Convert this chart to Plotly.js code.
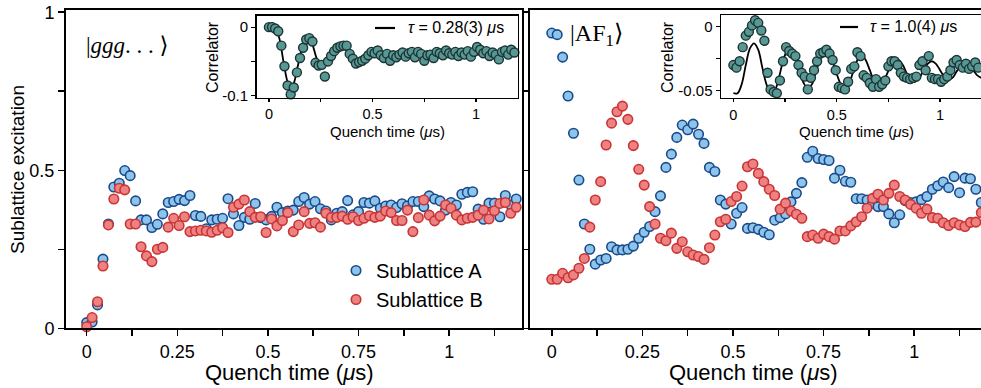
<!DOCTYPE html>
<html><head><meta charset="utf-8">
<script src="https://cdn.plot.ly/plotly-3.0.1.min.js"></script>
<style>html,body{margin:0;padding:0;overflow:hidden;background:#fff}#plot{width:992px;height:388px}</style>
</head><body><div id="plot"></div>
<script>
// ---- data ----
const times = [0,0.015,0.03,0.045,0.06,0.075,0.09,0.105,0.12,0.135,0.15,0.165,0.18,0.195,0.21,0.225,0.24,0.255,0.27,0.285,0.3,0.315,0.33,0.345,0.36,0.375,0.39,0.405,0.42,0.435,0.45,0.465,0.48,0.495,0.51,0.525,0.54,0.555,0.57,0.585,0.6,0.615,0.63,0.645,0.66,0.675,0.69,0.705,0.72,0.735,0.75,0.765,0.78,0.795,0.81,0.825,0.84,0.855,0.87,0.885,0.9,0.915,0.93,0.945,0.96,0.975,0.99,1.005,1.02,1.035,1.05,1.065,1.08,1.095,1.11,1.125,1.14,1.155,1.17,1.185];

const gggA = [0.018,0.020,0.074,0.219,0.330,0.447,0.459,0.499,0.483,0.403,0.343,0.343,0.319,0.329,0.362,0.398,0.401,0.408,0.404,0.420,0.357,0.354,0.315,0.343,0.345,0.348,0.410,0.362,0.325,0.351,0.345,0.395,0.350,0.343,0.354,0.383,0.366,0.371,0.374,0.401,0.414,0.393,0.401,0.378,0.371,0.343,0.364,0.369,0.404,0.359,0.369,0.398,0.396,0.403,0.380,0.387,0.390,0.382,0.394,0.387,0.401,0.401,0.385,0.419,0.409,0.403,0.374,0.398,0.390,0.424,0.430,0.432,0.377,0.345,0.396,0.396,0.353,0.420,0.390,0.409];
const gggB = [0.005,0.034,0.084,0.197,0.327,0.409,0.443,0.438,0.330,0.330,0.258,0.229,0.211,0.250,0.256,0.320,0.348,0.325,0.353,0.306,0.308,0.310,0.308,0.304,0.310,0.318,0.303,0.383,0.393,0.406,0.369,0.351,0.353,0.303,0.346,0.324,0.341,0.366,0.306,0.327,0.369,0.332,0.334,0.320,0.364,0.351,0.351,0.355,0.345,0.353,0.341,0.348,0.356,0.351,0.355,0.371,0.366,0.341,0.341,0.374,0.306,0.350,0.406,0.358,0.340,0.355,0.390,0.380,0.358,0.343,0.348,0.351,0.358,0.374,0.346,0.372,0.395,0.398,0.364,0.383];

const afA = [0.934,0.929,0.858,0.735,0.617,0.469,0.330,0.250,0.203,0.216,0.221,0.258,0.248,0.248,0.250,0.260,0.285,0.304,0.322,0.369,0.419,0.509,0.551,0.604,0.643,0.628,0.646,0.614,0.585,0.509,0.496,0.406,0.393,0.330,0.364,0.382,0.316,0.318,0.313,0.304,0.296,0.342,0.350,0.362,0.400,0.427,0.461,0.541,0.560,0.537,0.534,0.531,0.475,0.500,0.465,0.462,0.410,0.410,0.406,0.395,0.385,0.385,0.362,0.334,0.359,0.404,0.398,0.400,0.407,0.417,0.440,0.451,0.463,0.445,0.480,0.429,0.475,0.473,0.440,0.398];
const afB = [0.155,0.155,0.174,0.160,0.169,0.190,0.221,0.320,0.406,0.464,0.580,0.649,0.685,0.703,0.661,0.578,0.503,0.453,0.385,0.330,0.285,0.277,0.301,0.253,0.274,0.242,0.232,0.227,0.218,0.255,0.295,0.337,0.345,0.401,0.417,0.450,0.511,0.520,0.490,0.464,0.440,0.420,0.377,0.396,0.371,0.361,0.348,0.290,0.295,0.285,0.298,0.290,0.282,0.308,0.308,0.324,0.337,0.353,0.380,0.411,0.424,0.406,0.427,0.453,0.417,0.406,0.392,0.380,0.364,0.377,0.350,0.348,0.334,0.325,0.334,0.327,0.322,0.335,0.336,0.366];

const gggCorr = [0.000,0.000,-0.002,-0.006,-0.027,-0.057,-0.085,-0.098,-0.088,-0.066,-0.045,-0.030,-0.018,-0.016,-0.021,-0.052,-0.056,-0.055,-0.072,-0.050,-0.042,-0.035,-0.030,-0.028,-0.027,-0.027,-0.039,-0.046,-0.053,-0.051,-0.049,-0.046,-0.041,-0.036,-0.038,-0.034,-0.041,-0.045,-0.039,-0.049,-0.041,-0.044,-0.040,-0.037,-0.043,-0.038,-0.036,-0.044,-0.036,-0.039,-0.049,-0.041,-0.040,-0.045,-0.036,-0.038,-0.041,-0.034,-0.038,-0.040,-0.036,-0.042,-0.037,-0.040,-0.035,-0.043,-0.036,-0.029,-0.033,-0.038,-0.035,-0.042,-0.037,-0.040,-0.047,-0.036,-0.034,-0.040,-0.033,-0.037];
const afCorr = [-0.030,-0.032,-0.027,-0.016,-0.007,-0.004,0.001,0.005,0.003,-0.003,-0.011,-0.036,-0.049,-0.051,-0.052,-0.042,-0.027,-0.016,-0.019,-0.021,-0.023,-0.030,-0.036,-0.039,-0.049,-0.040,-0.034,-0.027,-0.021,-0.020,-0.018,-0.021,-0.026,-0.034,-0.047,-0.048,-0.049,-0.043,-0.033,-0.031,-0.020,-0.023,-0.038,-0.040,-0.044,-0.047,-0.041,-0.047,-0.045,-0.042,-0.031,-0.027,-0.027,-0.030,-0.036,-0.039,-0.040,-0.041,-0.040,-0.039,-0.030,-0.027,-0.034,-0.023,-0.040,-0.041,-0.041,-0.043,-0.041,-0.039,-0.034,-0.028,-0.026,-0.030,-0.032,-0.029,-0.033,-0.031,-0.028,-0.032];

const gggFitT = [0,0.01,0.02,0.03,0.05,0.07,0.09,0.105,0.12,0.14,0.16,0.18,0.195,0.21,0.23,0.25,0.265,0.28,0.3,0.32,0.34,0.36,0.38,0.4,0.42,0.44,0.46,0.48,0.5,0.52,0.55,0.6,0.65,0.7,0.8,0.9,1.0,1.2];
const gggFitV = [0,0.004,0.006,0.0,-0.016,-0.05,-0.08,-0.09,-0.082,-0.056,-0.031,-0.018,-0.016,-0.025,-0.045,-0.055,-0.056,-0.05,-0.04,-0.032,-0.028,-0.030,-0.036,-0.043,-0.047,-0.046,-0.042,-0.038,-0.036,-0.037,-0.041,-0.041,-0.039,-0.040,-0.040,-0.040,-0.040,-0.040];
const afFitT = [0,0.02,0.04,0.06,0.08,0.1,0.12,0.14,0.16,0.18,0.2,0.22,0.24,0.26,0.28,0.3,0.32,0.34,0.36,0.38,0.4,0.42,0.44,0.46,0.48,0.5,0.52,0.54,0.56,0.58,0.6,0.62,0.64,0.66,0.68,0.7,0.72,0.74,0.76,0.78,0.8,0.82,0.84,0.86,0.88,0.9,0.92,0.94,0.96,0.98,1.0,1.02,1.04,1.06,1.08,1.1,1.12,1.14,1.16,1.18,1.2];
const afFitV = [-0.052,-0.052,-0.045,-0.030,-0.017,-0.013,-0.018,-0.032,-0.045,-0.052,-0.050,-0.040,-0.027,-0.019,-0.018,-0.024,-0.034,-0.044,-0.048,-0.045,-0.035,-0.025,-0.019,-0.020,-0.027,-0.037,-0.045,-0.048,-0.044,-0.035,-0.026,-0.022,-0.026,-0.034,-0.042,-0.046,-0.045,-0.038,-0.031,-0.026,-0.026,-0.030,-0.037,-0.042,-0.043,-0.040,-0.034,-0.029,-0.027,-0.029,-0.034,-0.039,-0.041,-0.040,-0.035,-0.031,-0.029,-0.030,-0.034,-0.038,-0.040];

const seriesNames = ['Sublattice A','Sublattice B'];
const xTickVals = [0,0.25,0.5,0.75,1];
const xTickText = ['0','0.25','0.5','0.75','1'];
const xMinorVals = [0.125,0.375,0.625,0.875,1.125];
const yTickVals = [0,0.5,1];
const yTickText = ['0','0.5','1'];
const yMinorVals = [0.25,0.75];
const inXVals = [0,0.5,1];
const inXText = ['0','0.5','1'];
const inXMinor = [0.25,0.75];

// ---- style ----
const W = 992, H = 388;
const FONT = '"Liberation Sans", Arial, sans-serif';
const SERIF = '"Liberation Serif", "DejaVu Serif", serif';
const blueM = {size:9.5, color:'#8dc4ec', line:{color:'#1b4a8a', width:1.6}};
const redM = {size:9.5, color:'#ee8282', line:{color:'#c93434', width:1.6}};
const tealM = {size:9, color:'#579895', line:{color:'#1c3433', width:1.4}};
const fx = p => p / W, fy = p => 1 - p / H;

const traces = [
  {x: times, y: gggA, xaxis:'x', yaxis:'y', mode:'markers', marker: blueM, name: seriesNames[0], cliponaxis:false},
  {x: times, y: gggB, xaxis:'x', yaxis:'y', mode:'markers', marker: redM, name: seriesNames[1], cliponaxis:false},
  {x: times, y: afA, xaxis:'x2', yaxis:'y2', mode:'markers', marker: blueM, showlegend:false, cliponaxis:false},
  {x: times, y: afB, xaxis:'x2', yaxis:'y2', mode:'markers', marker: redM, showlegend:false, cliponaxis:false},
  {x: gggFitT, y: gggFitV, xaxis:'x3', yaxis:'y3', mode:'lines', line:{color:'#000', width:1.8, shape:'spline'}, showlegend:false},
  {x: times, y: gggCorr, xaxis:'x3', yaxis:'y3', mode:'markers', marker: tealM, showlegend:false, cliponaxis:false},
  {x: afFitT, y: afFitV, xaxis:'x4', yaxis:'y4', mode:'lines', line:{color:'#000', width:1.8, shape:'spline'}, showlegend:false},
  {x: times, y: afCorr, xaxis:'x4', yaxis:'y4', mode:'markers', marker: tealM, showlegend:false, cliponaxis:false}
];

const mainX = (dom, rng) => ({domain: dom, range: rng, tickvals: xTickVals, ticktext: xTickText,
  ticks:'outside', ticklen:6, tickwidth:1.5, tickcolor:'#000', showline:true, linewidth:2, linecolor:'#000', mirror:true,
  showgrid:false, zeroline:false, tickfont:{family:FONT, size:18, color:'#000'},
  minor:{tickvals:xMinorVals, ticks:'outside', ticklen:6, tickwidth:1.5, tickcolor:'#000', showgrid:false}});
const mainY = (dom, labels) => ({domain: dom, range:[0,1.007], tickvals: yTickVals, ticktext: yTickText, showticklabels: labels,
  ticks:'outside', ticklen:6, tickwidth:1.5, tickcolor:'#000', showline:true, linewidth:2, linecolor:'#000', mirror:true,
  showgrid:false, zeroline:false, tickfont:{family:FONT, size:18, color:'#000'},
  minor:{tickvals:yMinorVals, ticks:'outside', ticklen:6, tickwidth:1.5, tickcolor:'#000', showgrid:false}});
const inX = (dom, rng) => ({domain: dom, range: rng, tickvals: inXVals, ticktext: inXText,
  ticks:'outside', ticklen:3, tickwidth:1.3, tickcolor:'#000', showline:true, linewidth:1.5, linecolor:'#000', mirror:true,
  showgrid:false, zeroline:false, tickfont:{family:FONT, size:14.5, color:'#000'},
  minor:{tickvals:inXMinor, ticks:'outside', ticklen:3, tickwidth:1.3, tickcolor:'#000', showgrid:false}});
const inY = (dom, rng, vals, text, minorVals) => ({domain: dom, range: rng, tickvals: vals, ticktext: text,
  ticks:'outside', ticklen:4, tickwidth:1.3, tickcolor:'#000', showline:true, linewidth:1.5, linecolor:'#000', mirror:true,
  showgrid:false, zeroline:false, tickfont:{family:FONT, size:15, color:'#000'},
  minor:{tickvals:minorVals, ticks:'outside', ticklen:4, tickwidth:1.3, tickcolor:'#000', showgrid:false}});

const xa1 = mainX([fx(66), fx(522)], [-0.057, 1.201]); xa1.anchor = 'y';
const xa2 = mainX([fx(530), fx(986)], [-0.06, 1.198]); xa2.anchor = 'y2';
const ya1 = mainY([fy(328.3), fy(10)], true); ya1.anchor = 'x';
const ya2 = mainY([fy(328.3), fy(10)], false); ya2.anchor = 'x2';
const xa3 = inX([fx(256.5), fx(517.5)], [-0.06, 1.2]); xa3.anchor = 'y3';
const ya3 = inY([fy(97.5), fy(15.5)], [-0.1026, 0.017], [-0.1,0], ['-0.1','0'], [-0.05]); ya3.anchor = 'x3';
const xa4 = inX([fx(721), fx(983.5)], [-0.06, 1.21]); xa4.anchor = 'y4';
const ya4 = inY([fy(97.7), fy(15.3)], [-0.0555, 0.0089], [-0.05,0], ['-0.05','0'], [-0.025]); ya4.anchor = 'x4';

const ann = (x, y, text, size, extra) => Object.assign({xref:'paper', yref:'paper', x: fx(x), y: fy(y), text: text,
  showarrow:false, font:{family:FONT, size:size, color:'#000'}, xanchor:'center', yanchor:'middle'}, extra || {});

const annotations = [
  ann(289, 372, 'Quench time (<i>μ</i>s)', 22),
  ann(753, 372, 'Quench time (<i>μ</i>s)', 22),
  ann(17, 170, 'Sublattice excitation', 19, {textangle:-90}),
  ann(212, 57, 'Correlator', 16, {textangle:-90}),
  ann(667, 57, 'Correlator', 16, {textangle:-90}),
  ann(387, 131, 'Quench time (<i>μ</i>s)', 15),
  ann(856, 131, 'Quench time (<i>μ</i>s)', 15),
  ann(406, 28, '<i>τ</i> = 0.28(3) <i>μ</i>s', 16, {xanchor:'left'}),
  ann(868, 27, '<i>τ</i> = 1.0(4) <i>μ</i>s', 16, {xanchor:'left'}),
  ann(84, 45, '|<i>ggg</i>. . . ⟩', 23, {xanchor:'left', font:{family:SERIF, size:23, color:'#000'}}),
  ann(568, 35, '|AF<sub>1</sub>⟩', 24, {xanchor:'left', font:{family:SERIF, size:24, color:'#000'}})
];

const shapes = [
  {type:'line', xref:'paper', yref:'paper', x0: fx(375), x1: fx(395), y0: fy(28), y1: fy(28), line:{color:'#000', width:2.2}},
  {type:'line', xref:'paper', yref:'paper', x0: fx(840), x1: fx(858), y0: fy(27), y1: fy(27), line:{color:'#000', width:2.2}}
];

const layout = {
  width: W, height: H, margin:{l:0, r:0, t:0, b:0},
  paper_bgcolor:'#fff', plot_bgcolor:'rgba(0,0,0,0)',
  font:{family:FONT, color:'#000'},
  xaxis: xa1, yaxis: ya1, xaxis2: xa2, yaxis2: ya2, xaxis3: xa3, yaxis3: ya3, xaxis4: xa4, yaxis4: ya4,
  showlegend: true,
  legend:{x: fx(336), y: fy(251), xanchor:'left', yanchor:'top', bgcolor:'rgba(0,0,0,0)', font:{family:FONT, size:20, color:'#000'}, itemwidth:30, tracegroupgap:0},
  annotations: annotations, shapes: shapes
};

Plotly.newPlot('plot', traces, layout, {displayModeBar:false, staticPlot:true});
</script></body></html>
